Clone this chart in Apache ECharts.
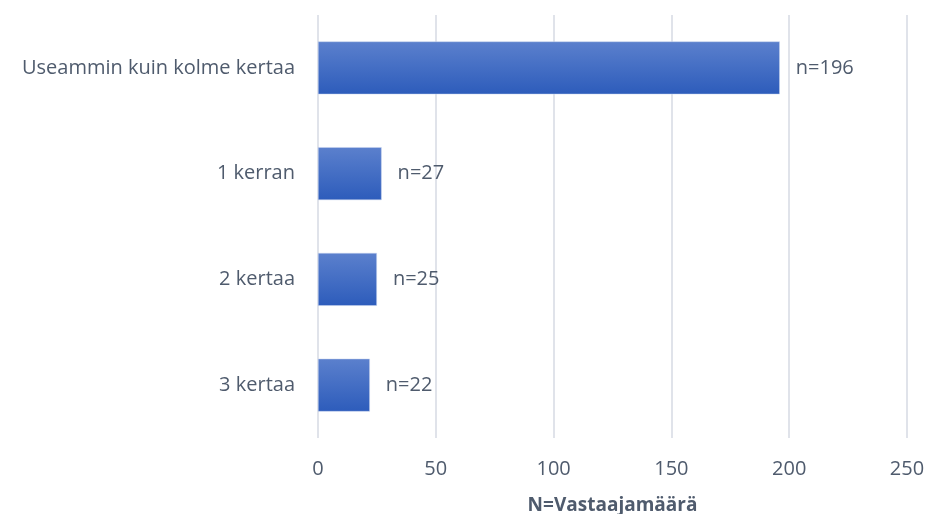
<!DOCTYPE html>
<html>
<head>
<meta charset="utf-8">
<script src="https://cdn.jsdelivr.net/npm/echarts@6/dist/echarts.min.js"></script>
<style>
  html, body { margin: 0; padding: 0; background: #ffffff; }
  #chart { width: 927px; height: 514px; }
</style>
</head>
<body>
<div id="chart"></div>
<script>
// Answer categories, listed top to bottom
const categories = ['Useammin kuin kolme kertaa', '1 kerran', '2 kertaa', '3 kertaa'];
// Number of respondents per answer
const counts = [196, 27, 25, 22];
// Value axis range
const axisMin = 0;
const axisMax = 250;
const axisStep = 50;
const axisTitle = 'N=Vastaajamäärä';

const textColor = '#4f5b6d';
const fontFamily = '"Open Sans", "Noto Sans", sans-serif';

const chart = echarts.init(document.getElementById('chart'), null, { renderer: 'canvas' });

chart.setOption({
  animation: false,
  backgroundColor: '#ffffff',
  grid: { left: 318, right: 20, top: 15, bottom: 76, containLabel: false, outerBoundsMode: 'none' },
  xAxis: {
    type: 'value',
    min: axisMin,
    max: axisMax,
    interval: axisStep,
    name: axisTitle,
    nameLocation: 'middle',
    nameGap: 58,
    nameTextStyle: { color: textColor, fontSize: 19, fontWeight: 'bold', fontFamily: fontFamily },
    axisLine: { show: false },
    axisTick: { show: false },
    axisLabel: { color: textColor, fontSize: 20, margin: 21, fontFamily: fontFamily },
    splitLine: { show: true, lineStyle: { color: '#e0e3ea', width: 2 } }
  },
  yAxis: {
    type: 'category',
    inverse: true,
    data: categories,
    axisLine: { show: false },
    axisTick: { show: false },
    axisLabel: { color: textColor, fontSize: 20, margin: 23, fontFamily: fontFamily }
  },
  series: [{
    type: 'bar',
    data: counts,
    barCategoryGap: '50%',
    itemStyle: {
      color: new echarts.graphic.LinearGradient(0, 0, 0, 1, [
        { offset: 0, color: '#5b80cd' },
        { offset: 1, color: '#2d5cbb' }
      ]),
      borderColor: '#c9d5ee',
      borderWidth: 0.5
    },
    label: {
      show: true,
      position: 'right',
      distance: 16,
      color: textColor,
      fontSize: 20,
      fontFamily: fontFamily,
      formatter: p => 'n=' + p.value
    }
  }]
});
</script>
</body>
</html>
